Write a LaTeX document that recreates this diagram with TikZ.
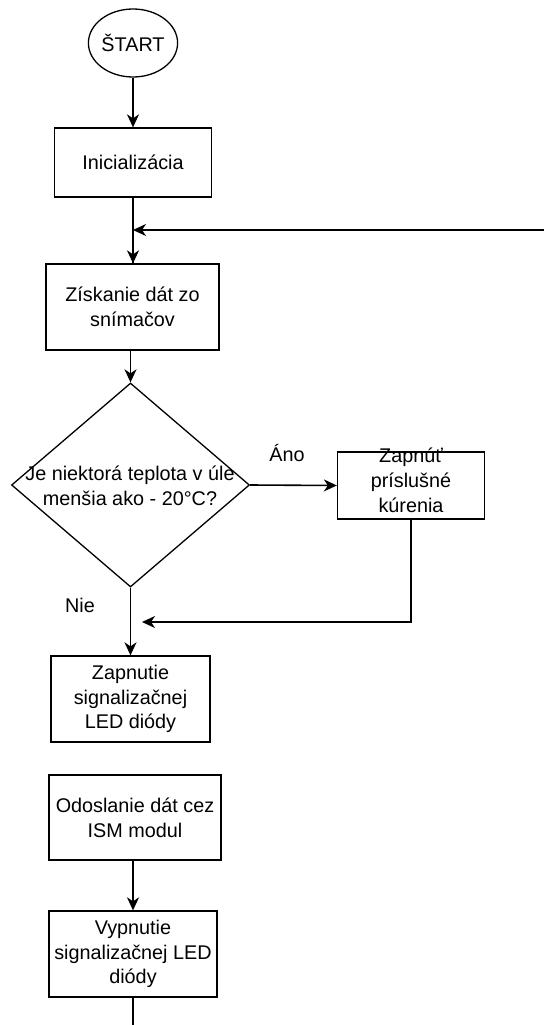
\documentclass[tikz,border=0pt]{standalone}
\usepackage{fontspec}
\setmainfont{Liberation Sans}
\usetikzlibrary{shapes.geometric,arrows.meta}
\newcommand\dfont{\fontsize{19.8}{24.8}\selectfont}
\begin{document}
\begin{tikzpicture}[x=1pt,y=-1pt,
  box/.style={draw, line width=1.3pt, inner sep=0pt, align=center, font=\dfont},
  oval/.style={draw, ellipse, line width=1.3pt, inner sep=0pt, font=\dfont},
  dia/.style={draw, diamond, line width=1.3pt, inner sep=0pt},
  lbl/.style={font=\dfont, inner sep=0pt, align=center},
  tip/.style={-{Stealth[length=13pt,width=12pt,inset=4pt]}},
  arr/.style={line width=1.6pt, tip},
  ln/.style={line width=1.6pt}]
\useasboundingbox (0,0) rectangle (544,1025);
\node[oval, minimum width=82, minimum height=68] (start) at (133,43) {ŠTART};
\node[box, minimum width=157, minimum height=69] (init) at (133,162.5) {Inicializácia};
\node[box, minimum width=173, minimum height=86] (zisk) at (132.5,307) {Získanie dát zo\\snímačov};
\node[dia, minimum width=238, minimum height=204] (dec) at (130.5,485) {};
\node[lbl] (dect) at (130,486) {Je niektorá teplota v úle\\menšia ako - 20°C?};
\node[box, minimum width=147, minimum height=67] (kur) at (411,485.5) {\raisebox{0pt}[0pt][0pt]{\parbox{147pt}{\centering Zapnúť\\príslušné\\kúrenia}}};
\node[box, minimum width=159, minimum height=86] (led) at (130.5,699) {Zapnutie\\signalizačnej\\LED diódy};
\node[box, minimum width=172, minimum height=85] (odos) at (135,817.5) {Odoslanie dát cez\\ISM modul};
\node[box, minimum width=168, minimum height=86] (vyp) at (133,954) {Vypnutie\\signalizačnej LED\\diódy};
\node[lbl] (ano) at (287,453) {Áno};
\node[lbl] (nie) at (80,605) {Nie};
\coordinate (fb) at (544,230);
\coordinate (ret) at (142,622);
\coordinate (end) at (133,1025);
\draw[arr] (start.south) -- (init.north);
\draw[ln] (init.south) -- (zisk.north -| init.south);
\draw[arr] (fb) -- (fb -| init.south);
\draw[arr] (init.south |- fb) -- (zisk.north -| init.south);
\draw[arr] (zisk.south -| dec.north) -- (dec.north);
\draw[arr] (dec.east) -- (kur.west);
\draw[line width=1.2pt, tip] (kur.south) |- (ret);
\draw[arr] (dec.south) -- (led.north -| dec.south);
\draw[arr] (odos.south -| vyp.north) -- (vyp.north);
\draw[ln] (vyp.south) -- (end);
\end{tikzpicture}
\end{document}
